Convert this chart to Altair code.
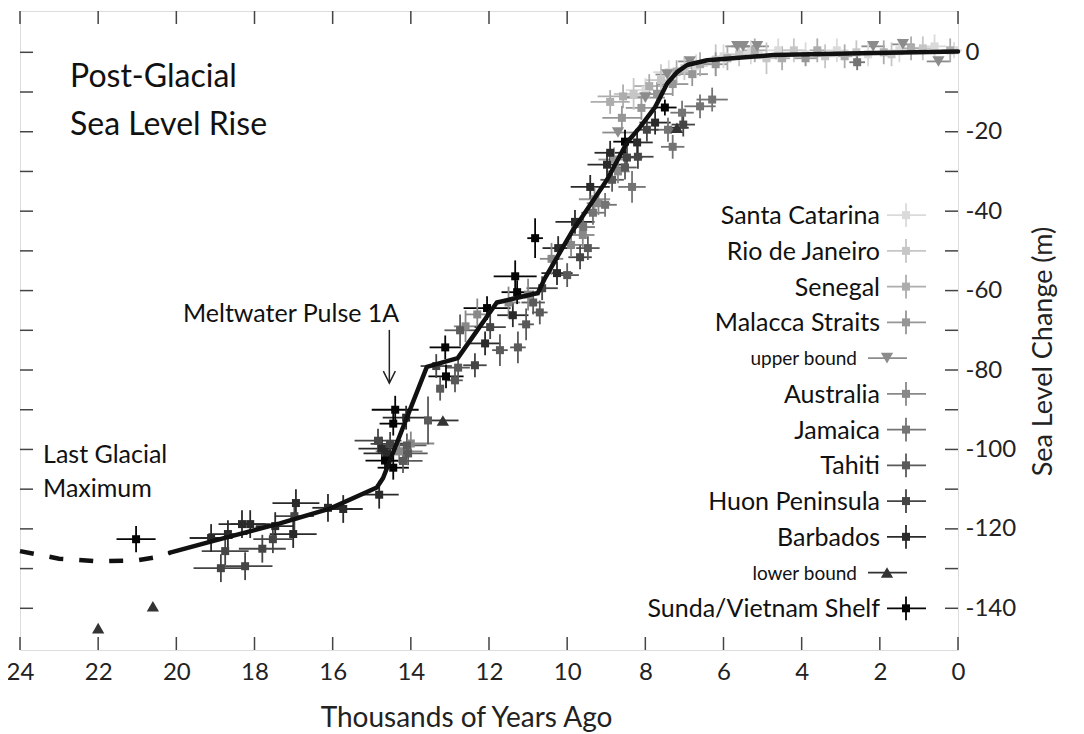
import altair as alt
import pandas as pd

FONT = "Lato"

# ---------------- series definitions ----------------
series_names = ["Santa Catarina", "Rio de Janeiro", "Senegal", "Malacca Straits",
                "upper bound", "Australia", "Jamaica", "Tahiti", "Huon Peninsula",
                "Barbados", "lower bound", "Sunda/Vietnam Shelf"]
series_colors = ["#dadada", "#c6c6c6", "#adadad", "#969696", "#8c8c8c", "#888888",
                 "#747474", "#5a5a5a", "#454545", "#2a2a2a", "#333333", "#050505"]
series_shapes = ["square", "square", "square", "square", "triangle-down", "square",
                 "square", "square", "square", "square", "triangle-up", "square"]
series_sizes = [64, 64, 64, 64, 150, 64, 64, 64, 64, 64, 150, 64]

# age (kyr BP), level (m), age error (kyr), level error (m)
santa_t = [8.0, 7.4, 6.7, 6.0, 5.3, 4.6, 3.9, 3.1, 2.3, 1.5, 0.6, 0.1]
santa_s = [-9.5, -5.0, -3.5, -1.0, 0.0, 0.5, -0.5, 0.5, -0.5, 0.5, 1.5, 0.5]
santa_xe = [0.5, 0.4, 0.3, 0.3, 0.3, 0.3, 0.3, 0.3, 0.3, 0.3, 0.3, 0.2]
santa_ye = [3, 3, 3, 3, 3, 3, 3, 3, 3, 3, 3, 2]

rio_t = [8.3, 7.6, 7.0, 6.2, 5.6, 4.9, 4.2, 3.4, 2.6, 1.7, 0.9]
rio_s = [-10.5, -7.0, -4.0, -2.0, -0.5, -1.5, 0.5, -1.0, 0.0, -0.5, 1.0]
rio_xe = [0.5, 0.4, 0.3, 0.3, 0.3, 0.3, 0.3, 0.3, 0.3, 0.3, 0.3]
rio_ye = [4, 4, 3, 4, 3, 4, 3, 3, 3, 3, 3]

sen_t = [8.57, 8.9, 7.9, 7.2, 6.6, 5.9, 5.2, 4.5, 3.6, 2.9, 1.9, 1.2, 0.2]
sen_s = [-11.1, -12.5, -8.5, -5.0, -3.0, -1.5, 0.5, -1.5, 0.5, -1.0, 0.0, 1.0, 0.5]
sen_xe = [0.65, 0.5, 0.4, 0.3, 0.3, 0.3, 0.3, 0.2, 0.2, 0.2, 0.2, 0.2, 0.2]
sen_ye = [3, 3, 3, 3, 3, 3, 3, 3, 3, 3, 3, 3, 3]

mal_t = [9.3, 8.8, 8.6, 8.1, 7.7, 7.3, 6.8, 6.2, 3.9]
mal_s = [-37.0, -27.0, -16.5, -14.0, -10.5, -8.0, -5.5, -3.0, -1.5]
mal_xe = [0.4, 0.4, 0.5, 0.4, 0.4, 0.4, 0.4, 0.3, 0.3]
mal_ye = [3, 3, 3, 3, 3, 3, 3, 3, 2]

ub_t = [8.7, 8.0, 7.44, 6.86, 5.65, 5.5, 5.14, 2.17, 1.41, 0.5]
ub_s = [-20.2, -11.4, -5.6, -2.3, 1.5, 1.5, 1.5, 1.5, 2.0, -2.3]
ub_xe = [0.4, 0.5, 0.3, 0.3, 0.3, 0.3, 0.3, 0.3, 0.3, 0.3]
ub_ye = [0, 0, 0, 0, 0, 0, 0, 0, 0, 0]

aus_t = [14.3, 14.0, 12.6, 12.3, 11.5, 11.0, 10.4, 9.9, 9.6, 9.2, 8.7]
aus_s = [-100.5, -98.5, -69.0, -66.0, -63.0, -61.0, -52.0, -48.5, -46.0, -38.0, -30.0]
aus_xe = [0.6, 0.6, 0.3, 0.3, 0.3, 0.3, 0.3, 0.3, 0.3, 0.3, 0.3]
aus_ye = [3, 3, 4, 4, 4, 4, 4, 3, 3, 3, 3]

jam_t = [9.59, 9.34, 9.03, 8.34, 7.42, 7.3, 7.06, 6.6, 6.29, 2.58]
jam_s = [-44.0, -40.4, -38.4, -33.9, -19.5, -23.8, -15.2, -13.6, -11.9, -2.5]
jam_xe = [0.3, 0.3, 0.3, 0.35, 0.3, 0.3, 0.3, 0.4, 0.4, 0.2]
jam_ye = [3, 3, 3, 4, 3, 3, 3, 3, 3, 2]

tah_t = [14.1, 14.07, 14.2, 13.56, 13.25, 12.79, 12.87, 12.74, 11.72, 11.26, 11.05,
         10.7, 10.87, 10.0, 9.47, 8.85, 8.52]
tah_s = [-99.0, -101.0, -102.9, -92.7, -84.7, -79.4, -82.6, -70.0, -75.0, -74.3, -68.5,
         -65.5, -63.0, -56.1, -49.3, -32.1, -29.0]
tah_xe = [0.5, 0.5, 0.5, 0.1, 0.1, 0.3, 0.2, 0.4, 0.2, 0.2, 0.2, 0.2, 0.3, 0.3, 0.3, 0.3, 0.3]
tah_ye = [3, 3, 3, 6, 3, 3, 3, 4, 4, 4, 4, 3, 3, 3, 3, 3, 3]

huon_t = [18.86, 18.24, 18.75, 17.8, 17.53, 16.98, 14.84, 14.53, 13.35, 12.36, 11.97,
          10.64, 9.67, 8.47, 8.19, 7.96, 7.03]
huon_s = [-129.9, -129.4, -125.6, -125.0, -122.6, -116.8, -97.8, -98.6, -79.0, -78.8,
          -69.2, -59.4, -51.6, -26.5, -26.3, -19.5, -18.2]
huon_xe = [0.7, 0.7, 0.6, 0.6, 0.5, 0.5, 0.6, 0.5, 0.4, 0.3, 0.4, 0.4, 0.3, 0.4, 0.4, 0.3, 0.3]
huon_ye = [3.5, 3.5, 3.5, 3.5, 3.5, 3.5, 3, 3, 3, 3, 3, 3, 3, 3, 3, 3, 3]

barb_t = [19.11, 18.68, 18.32, 18.11, 17.47, 17.01, 16.94, 16.12, 15.73, 14.81, 14.61,
          14.12, 14.74, 12.1, 11.39, 10.26, 10.23, 9.8, 9.41, 8.98, 8.9, 8.21, 7.75]
barb_s = [-122.3, -121.3, -118.8, -118.8, -119.3, -121.3, -113.5, -114.7, -115.0, -111.4,
          -101.0, -92.0, -99.8, -73.3, -66.2, -55.6, -49.3, -42.7, -33.9, -28.3, -25.3,
          -22.7, -17.7]
barb_xe = [0.55, 0.5, 0.6, 0.5, 0.5, 0.6, 0.6, 0.4, 0.5, 0.5, 0.6, 0.6, 0.6, 0.4, 0.4,
           0.4, 0.4, 0.5, 0.5, 0.5, 0.4, 0.4, 0.4]
barb_ye = [3.5, 3.5, 3.5, 3.5, 3.5, 3.5, 3.5, 3.5, 3.5, 3.5, 3, 3, 3, 3, 3, 3, 3, 3, 3, 3,
           3, 3, 3]

lb_t = [22.0, 20.6, 13.18, 7.19]
lb_s = [-145.0, -139.5, -92.7, -19.0]
lb_xe = [0, 0, 0.4, 0.3]
lb_ye = [0, 0, 0, 0]

sunda_t = [21.03, 14.4, 14.45, 14.66, 14.45, 13.1, 13.12, 11.33, 11.28, 10.82, 12.05, 8.52, 7.5]
sunda_s = [-122.6, -90.0, -93.5, -102.8, -104.6, -81.6, -74.3, -56.4, -60.4, -46.8, -64.4,
           -22.5, -13.9]
sunda_xe = [0.5, 0.6, 0.35, 0.5, 0.4, 0.45, 0.4, 0.55, 0.4, 0.2, 0.6, 0.3, 0.3]
sunda_ye = [3.3, 3.5, 3, 3, 3, 3, 3, 4, 3, 5, 3, 3, 2]

series_data = [
    (santa_t, santa_s, santa_xe, santa_ye),
    (rio_t, rio_s, rio_xe, rio_ye),
    (sen_t, sen_s, sen_xe, sen_ye),
    (mal_t, mal_s, mal_xe, mal_ye),
    (ub_t, ub_s, ub_xe, ub_ye),
    (aus_t, aus_s, aus_xe, aus_ye),
    (jam_t, jam_s, jam_xe, jam_ye),
    (tah_t, tah_s, tah_xe, tah_ye),
    (huon_t, huon_s, huon_xe, huon_ye),
    (barb_t, barb_s, barb_xe, barb_ye),
    (lb_t, lb_s, lb_xe, lb_ye),
    (sunda_t, sunda_s, sunda_xe, sunda_ye),
]

# main reconstruction curve
curve_t = [20.16, 19.0, 18.0, 17.35, 16.07, 14.87, 14.71, 13.59, 12.8, 11.8, 10.75, 10.57,
           9.85, 9.67, 8.98, 8.47, 8.14, 7.75, 7.62, 7.44, 7.19, 6.93, 6.42, 4.73, 2.17, 0.0]
curve_s = [-126.0, -122.9, -120.3, -118.6, -114.9, -109.6, -107.2, -79.2, -77.0, -63.0,
           -60.6, -56.9, -44.7, -42.2, -32.1, -22.7, -18.9, -13.8, -11.3, -7.8, -5.0, -3.2,
           -2.0, -0.7, -0.2, 0.2]
dash_t = [24.0, 23.0, 22.0, 21.0, 20.5, 20.16]
dash_s = [-125.6, -127.5, -128.2, -127.9, -127.1, -126.0]

# annotations
title_text = ["Post-Glacial", "Sea Level Rise"]
title_t = [22.72, 22.72]
title_s = [-8.8, -20.9]
note_text = ["Last Glacial", "Maximum", "Meltwater Pulse 1A"]
note_t = [23.41, 23.41, 19.83]
note_s = [-103.4, -112.0, -68.0]
arrow_t = [14.55]
arrow_top = [-69.9]
arrow_tip = [-83.3]

x_ticks = list(range(0, 25, 2))
y_ticks = list(range(0, -141, -10))
y_labels = list(range(0, -141, -20))

W, H = 938, 639
FRAME = "#444444"

# ---------------- data frames ----------------
rows = []
for name, (ts, ss, xes, yes) in zip(series_names, series_data):
    for t, s, xe, ye in zip(ts, ss, xes, yes):
        rows.append({"series": name, "t": t, "s": s, "xe": xe, "ye": ye})
pts = pd.DataFrame(rows)

curve_df = pd.DataFrame({"t": curve_t, "s": curve_s, "o": range(len(curve_t))})
dash_df = pd.DataFrame({"t": dash_t, "s": dash_s, "o": range(len(dash_t))})
title_df = pd.DataFrame({"text": title_text, "t": title_t, "s": title_s})
note_df = pd.DataFrame({"text": note_text, "t": note_t, "s": note_s})
arrow_df = pd.DataFrame({"t": arrow_t, "s": arrow_top, "s2": arrow_tip})
xt_df = pd.DataFrame({"v": x_ticks})
yt_df = pd.DataFrame({"v": y_ticks})
leg_df = pd.DataFrame({"series": series_names, "i": range(len(series_names)),
                       "bound": [n.endswith("bound") for n in series_names]})

# ---------------- scales / axes ----------------
xscale = alt.Scale(domain=[0, 24], reverse=True, nice=False, zero=False)
yscale = alt.Scale(domain=[-150.5, 10.4], nice=False, zero=False)
xaxis = alt.Axis(orient="bottom", values=x_ticks, ticks=False, domain=False, grid=False,
                 labelFont=FONT, labelFontSize=24, labelPadding=10, labelColor="#222",
                 labelFlush=False, labelOverlap=False,
                 title="Thousands of Years Ago", titleFont=FONT, titleFontSize=28,
                 titleFontWeight="normal", titleColor="#222", titleX=446, titleY=76,
                 titleBaseline="alphabetic", titleAnchor="middle")
yaxis = alt.Axis(orient="right", values=y_labels, ticks=False, domain=False, grid=False,
                 labelFont=FONT, labelFontSize=24, labelPadding=7, labelColor="#222",
                 labelExpr="datum.value == 0 ? '0' : '-' + abs(datum.value)",
                 title="Sea Level Change (m)", titleFont=FONT, titleFontSize=27,
                 titleFontWeight="normal", titleColor="#222", titleAngle=270,
                 titleX=93, titleY=340, titleBaseline="alphabetic", titleAlign="center")


def X(f):
    return alt.X(f, type="quantitative", scale=xscale, axis=xaxis)


def Y(f):
    return alt.Y(f, type="quantitative", scale=yscale, axis=yaxis)


color = alt.Color("series:N", scale=alt.Scale(type="ordinal", domain=series_names,
                                              range=series_colors), legend=None)
shape = alt.Shape("series:N", scale=alt.Scale(type="ordinal", domain=series_names,
                                              range=series_shapes), legend=None)
size = alt.Size("series:N", scale=alt.Scale(type="ordinal", domain=series_names,
                                            range=series_sizes), legend=None)

base = alt.Chart(pts).transform_calculate(
    lo="datum.t - datum.xe", hi="datum.t + datum.xe",
    slo="datum.s - datum.ye", shi="datum.s + datum.ye")

hbars = base.transform_filter("datum.xe > 0").mark_rule(strokeWidth=1.8).encode(
    x=X("lo"), x2="hi:Q", y=Y("s"), color=color)
vbars = base.transform_filter("datum.ye > 0").mark_rule(strokeWidth=1.8).encode(
    x=X("t"), y=Y("slo"), y2="shi:Q", color=color)
markers = base.mark_point(filled=True, opacity=1, strokeWidth=0).encode(
    x=X("t"), y=Y("s"), color=color, shape=shape, size=size)

curve = alt.Chart(curve_df).mark_line(color="#111111", strokeWidth=4.5,
                                      strokeJoin="round", strokeCap="round").encode(
    x=X("t"), y=Y("s"), order="o:Q")
dashed = alt.Chart(dash_df).mark_line(color="#111111", strokeWidth=4.5,
                                      strokeDash=[14, 16]).encode(
    x=X("t"), y=Y("s"), order="o:Q")

titles = alt.Chart(title_df).mark_text(align="left", baseline="alphabetic", font=FONT,
                                       fontSize=32, color="#111").encode(
    x=X("t"), y=Y("s"), text="text:N")
notes = alt.Chart(note_df).mark_text(align="left", baseline="alphabetic", font=FONT,
                                     fontSize=25, color="#111").encode(
    x=X("t"), y=Y("s"), text="text:N")
arrow_line = alt.Chart(arrow_df).mark_rule(color="#222", strokeWidth=1.5).encode(
    x=X("t"), y=Y("s"), y2="s2:Q")
arrow_head = alt.Chart(arrow_df).mark_point(shape="M -1 -2 L 0 0 L 1 -2", size=144,
                                            filled=False, color="#222",
                                            strokeWidth=1.5, opacity=1).encode(
    x=X("t"), y=Y("s2"))

# frame ticks (inward)
xt_top = alt.Chart(xt_df).mark_rule(color=FRAME, strokeWidth=1.5).encode(
    x=X("v"), y=alt.value(0), y2=alt.value(13))
xt_bot = alt.Chart(xt_df).mark_rule(color=FRAME, strokeWidth=1.5).encode(
    x=X("v"), y=alt.value(H - 13), y2=alt.value(H))
yt_left = alt.Chart(yt_df).mark_rule(color=FRAME, strokeWidth=1.5).encode(
    y=Y("v"), x=alt.value(0), x2=alt.value(13))
yt_right = alt.Chart(yt_df).mark_rule(color=FRAME, strokeWidth=1.5).encode(
    y=Y("v"), x=alt.value(W - 13), x2=alt.value(W))

# legend (rows placed on the y scale, stacked by row index)
leg = alt.Chart(leg_df).transform_calculate(
    ly="-41 - 9 * datum.i", lyt="-41 - 9 * datum.i + 3", lyb="-41 - 9 * datum.i - 3")
leg_n = leg.transform_filter("!datum.bound")
leg_b = leg.transform_filter("datum.bound")

leg_text = leg_n.mark_text(align="right", baseline="middle", font=FONT, fontSize=25,
                           color="#111", dy=1).encode(
    x=alt.value(860), y=Y("ly"), text="series:N")
leg_hbar = leg_n.mark_rule(strokeWidth=1.8).encode(
    x=alt.value(867), x2=alt.value(906), y=Y("ly"), color=color)
leg_vbar = leg_n.mark_rule(strokeWidth=1.8).encode(
    x=alt.value(886), y=Y("lyt"), y2="lyb:Q", color=color)
leg_mark = leg_n.mark_point(filled=True, opacity=1, strokeWidth=0).encode(
    x=alt.value(886), y=Y("ly"), color=color, shape=shape, size=size)

legb_text = leg_b.mark_text(align="right", baseline="middle", font=FONT, fontSize=19,
                            color="#111", dy=1).encode(
    x=alt.value(837), y=Y("ly"), text="series:N")
legb_hbar = leg_b.mark_rule(strokeWidth=1.8).encode(
    x=alt.value(848), x2=alt.value(887), y=Y("ly"), color=color)
legb_mark = leg_b.mark_point(filled=True, opacity=1, strokeWidth=0).encode(
    x=alt.value(867), y=Y("ly"), color=color, shape=shape, size=size)

chart = alt.layer(
    xt_top, xt_bot, yt_left, yt_right,
    hbars, vbars, markers, dashed, curve,
    titles, notes, arrow_line, arrow_head,
    leg_text, leg_hbar, leg_vbar, leg_mark, legb_text, legb_hbar, legb_mark,
).properties(
    width=W, height=H,
    padding={"left": 12, "top": 3, "right": 100, "bottom": 82},
    autosize=alt.AutoSizeParams(type="none"),
).configure_view(
    stroke=FRAME, strokeWidth=1.5
).configure(background="white")

chart.save("out.html", embed_options={"renderer": "svg", "actions": False})
